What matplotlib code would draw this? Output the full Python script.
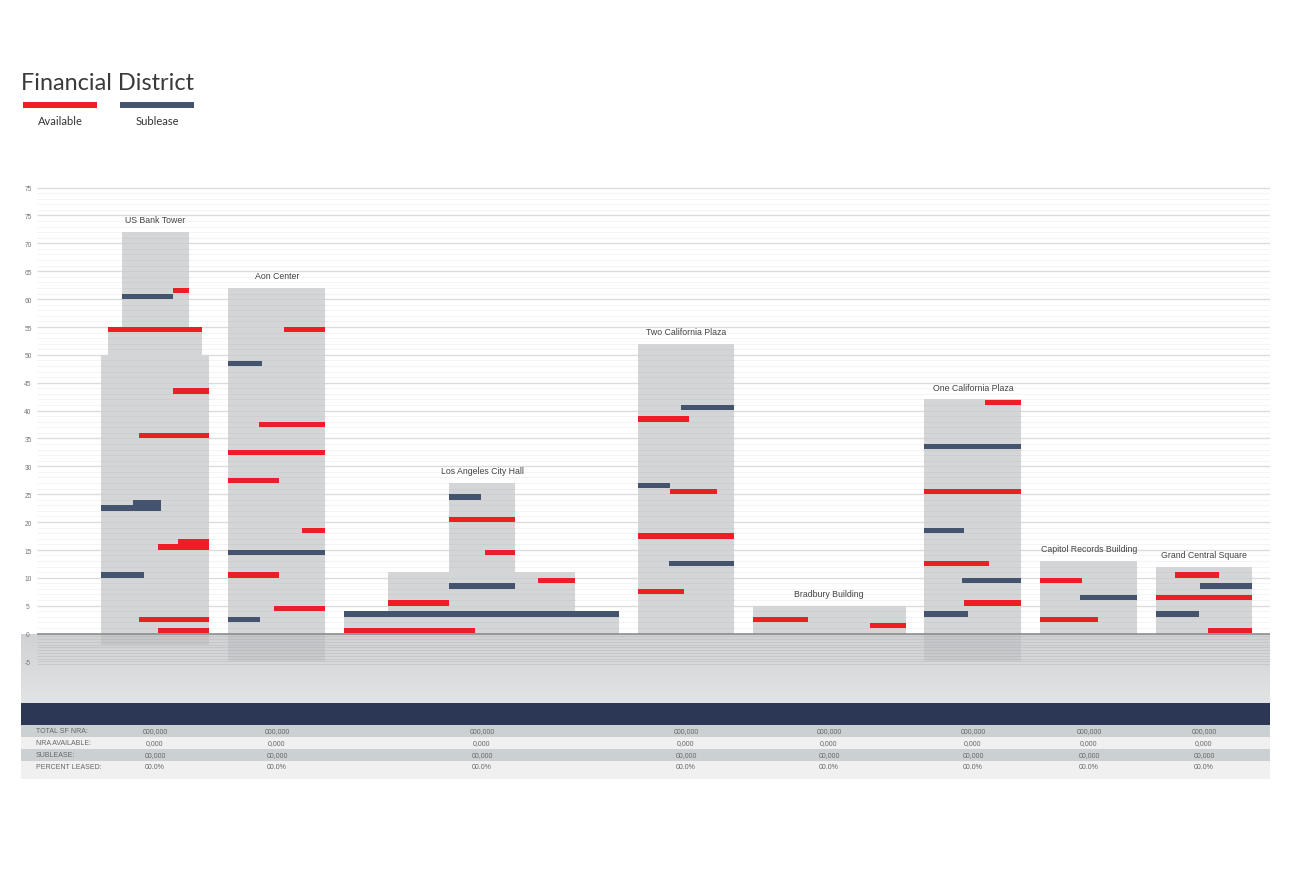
import numpy as np
import matplotlib
matplotlib.use("Agg")
import matplotlib.pyplot as plt
from matplotlib.patches import Rectangle
from matplotlib.colors import LinearSegmentedColormap

# ---------------- data ----------------
building_names = ["US Bank Tower", "Aon Center", "Los Angeles City Hall",
                  "Two California Plaza", "Bradbury Building",
                  "One California Plaza", "Capitol Records Building",
                  "Grand Central Square"]
building_center = [155, 277, 482, 686, 829, 973, 1089, 1204]
building_height = [72, 62, 27, 52, 5, 42, 13, 12]

# tiers (building index, left, right, bottom floor, top floor)
tier_building = [0, 0, 0, 1, 2, 2, 2, 3, 4, 5, 6, 7]
tier_left     = [101, 108, 122, 228, 344, 388, 449, 638, 753, 924, 1040, 1156]
tier_right    = [209, 202, 189, 325, 619, 575, 515, 734, 906, 1021, 1137, 1252]
tier_bottom   = [0, 50, 55, 0, 0, 4, 11, 0, 0, 0, 0, 0]
tier_top      = [50, 55, 72, 62, 4, 11, 27, 52, 5, 42, 13, 12]

# below-grade levels
basement_left  = [101, 228, 924]
basement_right = [209, 325, 1021]
basement_depth = [2, 5, 5]

# available space (floor, left, right)
avail_floor = [61, 54, 43, 35, 16, 15, 2, 0,
               54, 37, 32, 27, 18, 10, 4,
               20, 14, 9, 5, 0,
               38, 25, 17, 7,
               2, 1,
               41, 25, 12, 5,
               9, 2,
               10, 6, 0]
avail_left  = [173, 108, 173, 139, 178, 158, 139, 158,
               284, 259, 228, 228, 302, 228, 274,
               449, 485, 538, 388, 344,
               638, 670, 638, 638,
               753, 870,
               985, 924, 924, 964,
               1040, 1040,
               1175, 1156, 1208]
avail_right = [189, 202, 209, 209, 209, 209, 209, 209,
               325, 325, 325, 279, 325, 279, 325,
               515, 515, 575, 449, 475,
               689, 717, 734, 684,
               808, 906,
               1021, 1021, 989, 1021,
               1082, 1098,
               1219, 1252, 1252]

# sublease space (floor, left, right)
sub_floor = [60, 23, 22, 10,
             48, 14, 2,
             24, 8, 3,
             40, 26, 12,
             33, 18, 9, 3,
             6,
             8, 3]
sub_left  = [122, 133, 101, 101,
             228, 228, 228,
             449, 449, 344,
             681, 638, 669,
             924, 924, 962, 924,
             1080,
             1200, 1156]
sub_right = [173, 161, 161, 144,
             262, 325, 260,
             481, 515, 619,
             734, 670, 734,
             1021, 964, 1021, 968,
             1137,
             1252, 1199]

# y-axis ticks (as printed on the original)
tick_values = [80, 75, 70, 65, 60, 55, 50, 45, 40, 35, 30, 25, 20, 15, 10, 5, 0, -5]
tick_labels = ["75", "75", "70", "65", "60", "55", "50", "45", "40", "35",
               "30", "25", "20", "15", "10", "5", "0", "-5"]

# table
row_labels = ["TOTAL SF NRA:", "NRA AVAILABLE:", "SUBLEASE:", "PERCENT LEASED:"]
row_values = ["000,000", "0,000", "00,000", "00.0%"]

RED = "#ec1f27"
NAVY = "#44546f"
BLDG = "#d4d5d7"

# ---------------- figure ----------------
W, H = 1290, 870
fig = plt.figure(figsize=(W / 100, H / 100), dpi=100)
fig.patch.set_facecolor("white")

x0, x1 = 21, 1270
grid_x0 = 37
y_top = 80.2
y_bot = -12.556
top_px, bot_px = 187.5, 704.5
ax = fig.add_axes([x0 / W, (H - bot_px) / H, (x1 - x0) / W, (bot_px - top_px) / H])
ax.set_xlim(x0, x1)
ax.set_ylim(y_bot, y_top)
ax.axis("off")

# below-grade gradient
cmap = LinearSegmentedColormap.from_list("g", ["#e2e3e5", "#d1d2d4"])
grad = np.linspace(0, 1, 100).reshape(-1, 1)
ax.imshow(grad, extent=(x0, x1, y_bot, 0), aspect="auto", cmap=cmap,
          origin="lower", zorder=0)

# grid lines
for v in range(1, 81):
    if v % 5 == 0:
        ax.hlines(v, grid_x0, x1, color="#dcdcdc", lw=1.0, zorder=1)
    else:
        ax.hlines(v, grid_x0, x1, color="#f3f3f3", lw=0.6, zorder=1)
for v in np.arange(-0.5, -5.6, -0.5):
    ax.hlines(v, grid_x0, x1, color="#c4c5c7", lw=0.6, zorder=1)

# buildings
for b, l, r, lo, hi in zip(tier_building, tier_left, tier_right, tier_bottom, tier_top):
    ax.add_patch(Rectangle((l, lo), r - l, hi - lo, facecolor=BLDG,
                           edgecolor="none", zorder=2))
    for f in np.arange(lo + 1, hi, 1):
        ax.hlines(f, l, r, color="#cbccce", lw=0.5, zorder=2.5)

for l, r, d in zip(basement_left, basement_right, basement_depth):
    ax.add_patch(Rectangle((l, -d), r - l, d, facecolor="#9c9da0", alpha=0.22,
                           edgecolor="none", zorder=2))

ax.hlines(0, grid_x0, x1, color="#8c8c8c", lw=1.2, zorder=3.5)

# available / sublease floors
ax.barh(np.array(avail_floor) + 0.5, np.array(avail_right) - np.array(avail_left),
        left=avail_left, height=0.95, color=RED, zorder=3)
ax.barh(np.array(sub_floor) + 0.5, np.array(sub_right) - np.array(sub_left),
        left=sub_left, height=0.95, color=NAVY, zorder=3)

# building names
for name, cx, h in zip(building_names, building_center, building_height):
    ax.text(cx, h + 1.4, name, ha="center", va="bottom", fontsize=6.3,
            family="Liberation Sans", color="#444444", zorder=4)

# tick labels
for v, lab in zip(tick_values, tick_labels):
    ax.text(28, v - 0.2, lab, ha="center", va="center", fontsize=4.8,
            family="Liberation Sans", color="#777777", zorder=4)

# ---------------- table ----------------
tax = fig.add_axes([x0 / W, (H - 779.5) / H, (x1 - x0) / W, 76 / H])
tax.set_xlim(x0, x1)
tax.set_ylim(779, 703)
tax.axis("off")
tax.add_patch(Rectangle((x0, 703), x1 - x0, 22, facecolor="#2c3755", edgecolor="none"))
row_edges = [725, 737, 749, 761, 779]
row_colors = ["#cbd1d3", "#f0f0f0", "#cbd1d3", "#f0f0f0"]
row_text_y = [731, 743, 755, 767]
for i, (lab, val) in enumerate(zip(row_labels, row_values)):
    tax.add_patch(Rectangle((x0, row_edges[i]), x1 - x0, row_edges[i + 1] - row_edges[i],
                            facecolor=row_colors[i], edgecolor="none"))
    tax.text(36, row_text_y[i], lab, ha="left", va="center", fontsize=5,
             family="Liberation Sans", color="#666666")
    for cx in building_center:
        tax.text(cx, row_text_y[i], val, ha="center", va="center", fontsize=5,
                 family="Liberation Sans", color="#666666")

# ---------------- title & legend ----------------
oax = fig.add_axes([0, 0, 1, 1])
oax.set_xlim(0, W)
oax.set_ylim(H, 0)
oax.axis("off")
oax.text(21, 84, "Financial District", ha="left", va="center", fontsize=16.9,
         family="Lato", fontweight="normal", color="#3a3a3a")
legend_items = [("Available", RED, 23), ("Sublease", NAVY, 120)]
for lab, col, lx in legend_items:
    oax.add_patch(Rectangle((lx, 102.5), 74, 6, facecolor=col, edgecolor="none"))
    oax.text(lx + 37, 121.5, lab, ha="center", va="center", fontsize=8,
             family="Lato", color="#333333")

fig.savefig("out.png", dpi=100, facecolor="white")
